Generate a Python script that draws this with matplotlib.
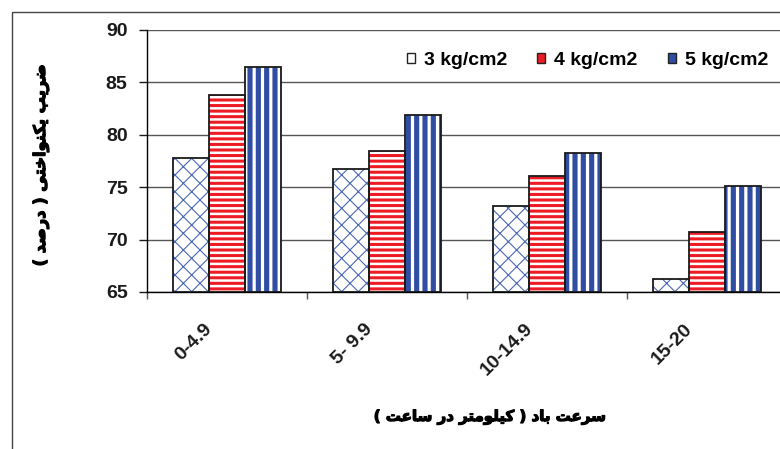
import matplotlib
matplotlib.use("Agg")
import matplotlib.pyplot as plt
from matplotlib.patches import Patch, Rectangle
import matplotlib.patheffects as pe
import numpy as np

categories = ["0-4.9", "5- 9.9", "10-14.9", "15-20"]
series_names = ["3 kg/cm2", "4 kg/cm2", "5 kg/cm2"]
p3 = [77.8, 76.7, 73.2, 66.2]
p4 = [83.8, 78.5, 76.1, 70.7]
p5 = [86.5, 81.9, 78.3, 75.1]
yticks = [65, 70, 75, 80, 85, 90]
xlabel_fa = "سرعت باد ( کیلومتر در ساعت )"
ylabel_fa = "ضریب یکنواختی ( درصد )"

RED = "#ED1C24"
BLUE = "#2E4DA3"

# arabic presentation forms: isolated, final, initial, medial
FORMS = {
    "\u0627": ("\uFE8D", "\uFE8E", None, None),
    "\u0628": ("\uFE8F", "\uFE90", "\uFE91", "\uFE92"),
    "\u062A": ("\uFE95", "\uFE96", "\uFE97", "\uFE98"),
    "\u062E": ("\uFEA5", "\uFEA6", "\uFEA7", "\uFEA8"),
    "\u062F": ("\uFEA9", "\uFEAA", None, None),
    "\u0631": ("\uFEAD", "\uFEAE", None, None),
    "\u0633": ("\uFEB1", "\uFEB2", "\uFEB3", "\uFEB4"),
    "\u0635": ("\uFEB9", "\uFEBA", "\uFEBB", "\uFEBC"),
    "\u0636": ("\uFEBD", "\uFEBE", "\uFEBF", "\uFEC0"),
    "\u0639": ("\uFEC9", "\uFECA", "\uFECB", "\uFECC"),
    "\u0644": ("\uFEDD", "\uFEDE", "\uFEDF", "\uFEE0"),
    "\u0645": ("\uFEE1", "\uFEE2", "\uFEE3", "\uFEE4"),
    "\u0646": ("\uFEE5", "\uFEE6", "\uFEE7", "\uFEE8"),
    "\u0648": ("\uFEED", "\uFEEE", None, None),
    "\u06A9": ("\uFB8E", "\uFB8F", "\uFB90", "\uFB91"),
    "\u0643": ("\uFB8E", "\uFB8F", "\uFB90", "\uFB91"),
    "\u06CC": ("\uFBFC", "\uFBFD", "\uFBFE", "\uFBFF"),
    "\u064A": ("\uFBFC", "\uFBFD", "\uFBFE", "\uFBFF"),
}


def shape_rtl(text):
    # join letters and put them in visual (left-to-right) order
    out = []
    for i, ch in enumerate(text):
        forms = FORMS.get(ch)
        if forms is None:
            out.append(ch)
            continue
        prev = text[i - 1] if i > 0 else ""
        nxt = text[i + 1] if i < len(text) - 1 else ""
        join_prev = prev in FORMS and FORMS[prev][2] is not None
        join_next = forms[2] is not None and nxt in FORMS
        if join_prev and join_next:
            out.append(forms[3])
        elif join_prev:
            out.append(forms[1])
        elif join_next:
            out.append(forms[2])
        else:
            out.append(forms[0])
    mirror = {"(": ")", ")": "("}
    return "".join(mirror.get(c, c) for c in reversed(out))


plt.rcParams["font.family"] = ["Liberation Sans", "DejaVu Sans"]
plt.rcParams["font.weight"] = "bold"

W, H = 780, 449
fig = plt.figure(figsize=(W / 100, H / 100), dpi=100)
ax = fig.add_axes([147 / W, 1 - 292 / H, (787 - 147) / W, (292 - 30) / H])

x = np.arange(len(categories)) + 0.5
bw = 0.225
styles = [
    dict(facecolor="white", hatch="//\\\\", hcolor="#4A67B5", hlw=0.8),
    dict(facecolor=RED, hatch="---", hcolor="white", hlw=1.8),
    dict(facecolor=BLUE, hatch="||", hcolor="white", hlw=2.3),
]
for k, (vals, st) in enumerate(zip([p3, p4, p5], styles)):
    pos = x + (k - 1) * bw
    plt.rcParams["hatch.linewidth"] = st["hlw"]
    bars = ax.bar(pos, np.array(vals) - 65, bw, bottom=65, color=st["facecolor"],
                  hatch=st["hatch"], edgecolor=st["hcolor"], linewidth=0, zorder=2)
    for b in bars:
        if hasattr(b, "set_hatch_linewidth"):
            b.set_hatch_linewidth(st["hlw"])
    ax.bar(pos, np.array(vals) - 65, bw, bottom=65, fill=False,
           edgecolor="#1a1a1a", linewidth=1.3, zorder=3)

handles = [Patch(facecolor=st["facecolor"], edgecolor="#222222", linewidth=1) for st in styles]

ax.set_xlim(0, 4)
ax.set_ylim(65, 90)
ax.set_yticks(yticks)
ax.set_yticklabels([str(v) for v in yticks], fontsize=14, fontweight="bold")
ax.set_xticks(range(5))
ax.set_xticklabels([])
ax.tick_params(axis="y", length=6, width=1, pad=8, colors="#1a1a1a")
ax.tick_params(axis="x", length=5, width=1, color="#555555")
ax.grid(axis="y", color="#555555", linewidth=1, zorder=0)
ax.set_axisbelow(True)
for s in ["top", "right"]:
    ax.spines[s].set_visible(False)
ax.spines["left"].set_linewidth(1)
ax.spines["bottom"].set_linewidth(1)

for xi, lab in zip(x, categories):
    ax.annotate(lab, xy=(xi, 0), xycoords=("data", "axes fraction"),
                xytext=(-8, -20.5), textcoords="offset points",
                rotation=45, ha="right", va="top", fontsize=14, fontweight="bold",
                color="#1a1a1a")

ax.legend(handles, series_names, loc="center left",
          bbox_to_anchor=(407 / W, 1 - 60 / H), bbox_transform=fig.transFigure,
          ncol=3, frameon=False, borderpad=0, borderaxespad=0,
          handlelength=0.42, handleheight=0.42, handletextpad=0.45,
          columnspacing=1.55, prop=dict(size=14, weight="bold"))

bold_fx = [pe.withStroke(linewidth=0.9, foreground="black")]
fig.text(41 / W, 1 - 165 / H, shape_rtl(ylabel_fa), rotation=90, ha="center", va="center",
         fontsize=11.7, fontweight="bold", family="DejaVu Sans", path_effects=bold_fx)
fig.text(490 / W, 1 - 417 / H, shape_rtl(xlabel_fa), ha="center", va="center",
         fontsize=10.8, fontweight="bold", family="DejaVu Sans", path_effects=bold_fx)

# outer chart border
fig.add_artist(Rectangle((12 / W, -0.05), 1.1, 1 - 12 / H + 0.05, transform=fig.transFigure,
                         fill=False, edgecolor="#444444", linewidth=1))

fig.savefig("out.png", dpi=100)
